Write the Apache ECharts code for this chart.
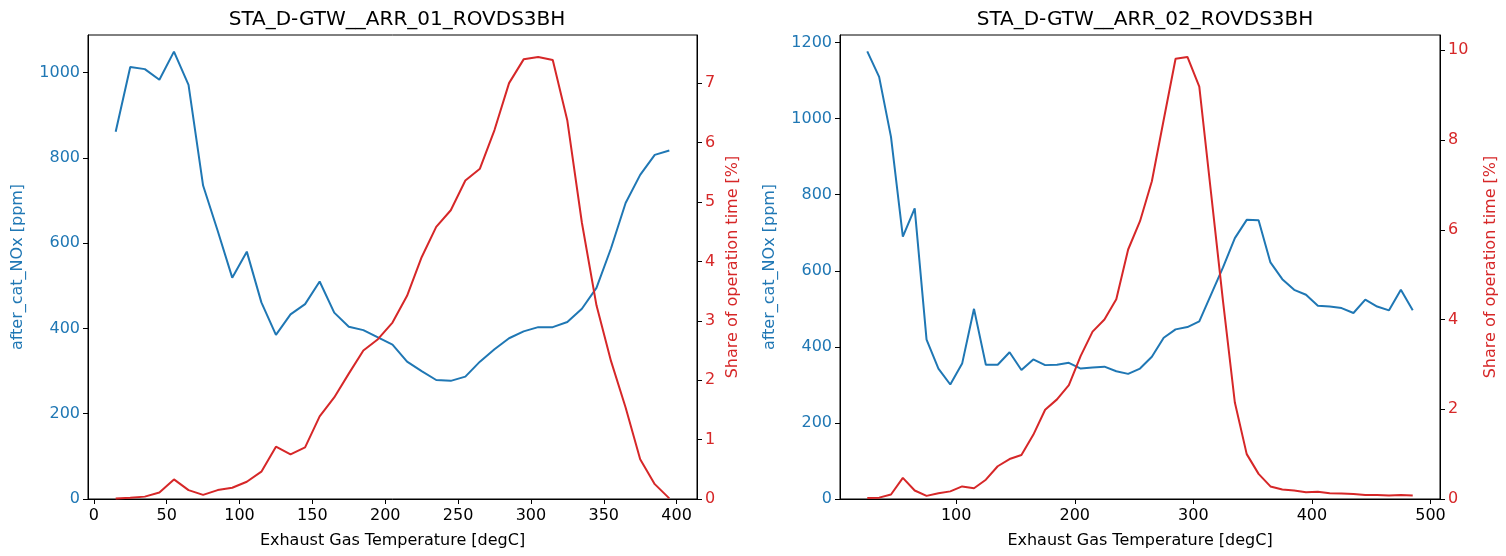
<!DOCTYPE html>
<html>
<head>
<meta charset="utf-8">
<title>after_cat_NOx vs Exhaust Gas Temperature</title>
<script src="https://cdn.jsdelivr.net/npm/echarts@6/dist/echarts.min.js"></script>
<style>
  html, body { margin: 0; padding: 0; background: #fff; }
  #chart { width: 1506px; height: 556px; }
</style>
</head>
<body>
<div id="chart"></div>
<script>
// ---- ARR_01 ----
const temp01 = [15, 25, 35, 45, 55, 65, 75, 85, 95, 105, 115, 125, 135, 145, 155, 165, 175, 185, 195, 205,
  215, 225, 235, 245, 255, 265, 275, 285, 295, 305, 315, 325, 335, 345, 355, 365, 375, 385, 395];
const nox01 = [861, 1013, 1008, 983, 1049, 971, 735, 629, 519, 580, 461, 385, 433, 457, 510, 437, 404, 396, 379, 362,
  322, 300, 279, 277, 287, 322, 351, 377, 393, 403, 403, 415, 446, 495, 588, 694, 760, 807, 817];
const share01 = [0.01, 0.02, 0.04, 0.11, 0.33, 0.15, 0.07, 0.15, 0.19, 0.29, 0.46, 0.88, 0.75, 0.87, 1.39, 1.71, 2.11, 2.50, 2.69, 2.97,
  3.42, 4.07, 4.58, 4.86, 5.36, 5.56, 6.21, 7.00, 7.40, 7.44, 7.39, 6.37, 4.65, 3.26, 2.32, 1.54, 0.67, 0.25, 0.01];

// ---- ARR_02 ----
const temp02 = [25, 35, 45, 55, 65, 75, 85, 95, 105, 115, 125, 135, 145, 155, 165, 175, 185, 195, 205, 215,
  225, 235, 245, 255, 265, 275, 285, 295, 305, 315, 325, 335, 345, 355, 365, 375, 385, 395, 405, 415,
  425, 435, 445, 455, 465, 475, 485];
const nox02 = [1177, 1110, 952, 690, 764, 419, 343, 301, 356, 500, 353, 353, 386, 339, 367, 352, 353, 358, 343, 346,
  348, 336, 329, 343, 374, 424, 446, 452, 467, 538, 609, 686, 734, 733, 622, 578, 550, 537, 508, 506,
  502, 489, 524, 506, 496, 550, 496];
const share02 = [0.02, 0.03, 0.10, 0.47, 0.19, 0.07, 0.13, 0.17, 0.28, 0.24, 0.43, 0.73, 0.89, 0.98, 1.43, 1.99, 2.22, 2.54, 3.19, 3.73,
  4.00, 4.45, 5.56, 6.19, 7.08, 8.45, 9.81, 9.85, 9.19, 6.80, 4.41, 2.15, 1.00, 0.56, 0.28, 0.21, 0.19, 0.15, 0.16, 0.13,
  0.12, 0.11, 0.09, 0.09, 0.08, 0.09, 0.08];

// ---- tick labels ----
const xTicks01 = [0, 50, 100, 150, 200, 250, 300, 350, 400];
const noxTicks01 = [0, 200, 400, 600, 800, 1000];
const shareTicks01 = [0, 1, 2, 3, 4, 5, 6, 7];
const xTicks02 = [100, 200, 300, 400, 500];
const noxTicks02 = [0, 200, 400, 600, 800, 1000, 1200];
const shareTicks02 = [0, 2, 4, 6, 8, 10];

const titles = ['STA_D-GTW__ARR_01_ROVDS3BH', 'STA_D-GTW__ARR_02_ROVDS3BH'];
const xName = 'Exhaust Gas Temperature [degC]';
const noxName = 'after_cat_NOx [ppm]';
const shareName = 'Share of operation time [%]';

const BLUE = '#1f77b4';
const RED = '#d62728';
const FONT = 'DejaVu Sans';
const FS = 16;

function pairs(xs, ys) { return xs.map((x, i) => [x, ys[i]]); }
const plain = v => String(v);

function xAxis(gridIndex, min, max, ticks) {
  return {
    type: 'value', gridIndex, min, max,
    name: xName, nameLocation: 'middle', nameGap: 34,
    nameTextStyle: { color: '#000', fontFamily: FONT, fontSize: FS },
    axisLine: { show: true, lineStyle: { color: '#000', width: 1 } },
    axisTick: { show: true, length: 5, inside: false, customValues: ticks, lineStyle: { color: '#000' } },
    axisLabel: { customValues: ticks, formatter: plain, color: '#000', fontFamily: FONT, fontSize: FS, margin: 9 },
    splitLine: { show: false }
  };
}

function yAxis(gridIndex, position, min, max, ticks, name, color, nameGap) {
  return {
    type: 'value', gridIndex, position, min, max,
    name, nameLocation: 'middle', nameGap, nameRotate: 90,
    nameTextStyle: { color, fontFamily: FONT, fontSize: FS },
    axisLine: { show: true, onZero: false, lineStyle: { color: '#000', width: 1 } },
    axisTick: { show: true, length: 5, customValues: ticks, lineStyle: { color: '#000' } },
    axisLabel: { customValues: ticks, formatter: plain, color, fontFamily: FONT, fontSize: FS, margin: 8 },
    splitLine: { show: false }
  };
}

function line(xi, yi, xs, ys, color) {
  return {
    type: 'line', xAxisIndex: xi, yAxisIndex: yi,
    data: pairs(xs, ys), showSymbol: false, symbol: 'none',
    lineStyle: { color, width: 2 }, itemStyle: { color },
    animation: false, z: 3
  };
}

const chart = echarts.init(document.getElementById('chart'), null, { renderer: 'canvas' });
chart.setOption({
  backgroundColor: '#fff',
  animation: false,
  title: [
    { text: titles[0], left: 392, top: 5, textAlign: 'center',
      textStyle: { fontFamily: FONT, fontSize: 20, fontWeight: 'normal', color: '#000' } },
    { text: titles[1], left: 1140, top: 5, textAlign: 'center',
      textStyle: { fontFamily: FONT, fontSize: 20, fontWeight: 'normal', color: '#000' } }
  ],
  grid: [
    { left: 88, right: 809, top: 35, bottom: 57, show: true, borderColor: '#000', borderWidth: 1, containLabel: false },
    { left: 840, right: 66, top: 35, bottom: 57, show: true, borderColor: '#000', borderWidth: 1, containLabel: false }
  ],
  xAxis: [
    xAxis(0, -4, 414, xTicks01),
    xAxis(1, 2, 508, xTicks02)
  ],
  yAxis: [
    yAxis(0, 'left', 0, 1088, noxTicks01, noxName, BLUE, 62),
    yAxis(0, 'right', 0, 7.81, shareTicks01, shareName, RED, 28),
    yAxis(1, 'left', 0, 1220, noxTicks02, noxName, BLUE, 62),
    yAxis(1, 'right', 0, 10.34, shareTicks02, shareName, RED, 43)
  ],
  series: [
    line(0, 0, temp01, nox01, BLUE),
    line(0, 1, temp01, share01, RED),
    line(1, 2, temp02, nox02, BLUE),
    line(1, 3, temp02, share02, RED)
  ]
});
</script>
</body>
</html>
